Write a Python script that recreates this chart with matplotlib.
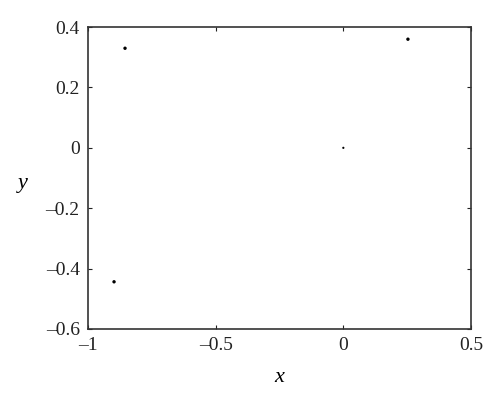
import matplotlib
matplotlib.use("Agg")
import matplotlib.pyplot as plt

# points
x_pts = [-0.855, 0.253, 0.0, -0.898]
y_pts = [0.33, 0.36, 0.0, -0.444]
sizes = [6, 6, 2.5, 6]

x_ticks = [-1, -0.5, 0, 0.5]
x_tick_labels = ["\u20131", "\u20130.5", "0", "0.5"]
y_ticks = [-0.6, -0.4, -0.2, 0, 0.2, 0.4]
y_tick_labels = ["\u20130.6", "\u20130.4", "\u20130.2", "0", "0.2", "0.4"]

plt.rcParams['font.family'] = ['Liberation Serif', 'DejaVu Serif']

fig = plt.figure(figsize=(5, 4.05), dpi=100)
ax = fig.add_axes([0.176, 0.188, 0.766, 0.745])

ax.scatter(x_pts, y_pts, s=sizes, color="black", linewidths=0)

ax.set_xlim(-1, 0.5)
ax.set_ylim(-0.6, 0.4)
ax.set_xticks(x_ticks)
ax.set_xticklabels(x_tick_labels)
ax.set_yticks(y_ticks)
ax.set_yticklabels(y_tick_labels)
ax.tick_params(direction="in", length=3, width=0.8, top=True, right=True,
               labelsize=14, colors="#222222", pad=6)
for sp in ax.spines.values():
    sp.set_linewidth(1.2)
    sp.set_color("#333333")

ax.set_xlabel("x", fontsize=16, style="italic", labelpad=10)
ax.set_ylabel("y", fontsize=16, style="italic", rotation=0)
ax.yaxis.set_label_coords(-0.17, 0.45)

fig.savefig("out.png", dpi=100)
